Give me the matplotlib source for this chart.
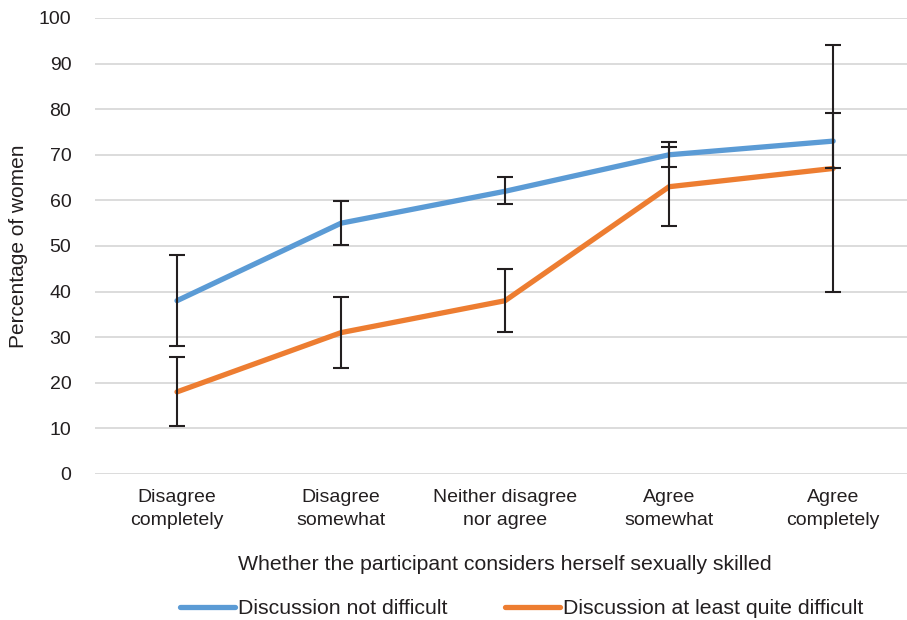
import matplotlib.pyplot as plt
import numpy as np

plt.rcParams['font.family'] = ['Liberation Sans', 'DejaVu Sans']

# Datos
categorias = ["Disagree\ncompletely", "Disagree\nsomewhat", "Neither disagree\nnor agree",
              "Agree\nsomewhat", "Agree\ncompletely"]
no_dificil = [38, 55, 62, 70, 73]
no_dificil_inf = [28, 50.2, 59.2, 67.3, 67]
no_dificil_sup = [48, 59.9, 65.1, 72.8, 79.1]
dificil = [18, 31, 38, 63, 67]
dificil_inf = [10.5, 23.2, 31.1, 54.4, 40]
dificil_sup = [25.7, 38.8, 45, 71.8, 94.1]

azul = "#5B9BD5"
naranja = "#ED7D31"
texto = "#231f20"

fig = plt.figure(figsize=(9.07, 6.20), dpi=100)
ax = fig.add_axes([0.1047, 0.2355, 0.8953, 0.7355])

x = np.arange(len(categorias))

ax.plot(x, dificil, color=naranja, lw=3.8, solid_capstyle="round", zorder=3,
        label="Discussion at least quite difficult")
ax.plot(x, no_dificil, color=azul, lw=3.8, solid_capstyle="round", zorder=3,
        label="Discussion not difficult")

# Barras de error
err_azul = [np.array(no_dificil) - np.array(no_dificil_inf),
            np.array(no_dificil_sup) - np.array(no_dificil)]
err_naranja = [np.array(dificil) - np.array(dificil_inf),
               np.array(dificil_sup) - np.array(dificil)]
ax.errorbar(x, no_dificil, yerr=err_azul, fmt="none", ecolor=texto,
            elinewidth=1.5, capsize=5.5, capthick=1.5, zorder=4)
ax.errorbar(x, dificil, yerr=err_naranja, fmt="none", ecolor=texto,
            elinewidth=1.5, capsize=5.5, capthick=1.5, zorder=4)

ax.set_ylim(0, 100)
ax.set_xlim(-0.5, 4.45)
ax.set_yticks(range(0, 101, 10))
ax.yaxis.grid(True, color="#d9d9d9", lw=1.3)
ax.set_axisbelow(True)
for s in ax.spines.values():
    s.set_visible(False)
ax.tick_params(axis="both", length=0, labelsize=14, colors=texto)
ax.tick_params(axis="y", pad=17)
ax.tick_params(axis="x", pad=11)
ax.set_xticks(x)
ax.set_xticklabels(categorias, linespacing=1.45)

ax.set_ylabel("Percentage of women", fontsize=15, color=texto, labelpad=8)
fig.text(0.557, 0.089, "Whether the participant considers herself sexually skilled",
         ha="center", va="center", fontsize=15.3, color=texto)

h, l = ax.get_legend_handles_labels()
fig.legend(h[::-1], l[::-1], loc="center", bbox_to_anchor=(0.575, 0.018), ncol=2,
           frameon=False, fontsize=15.3, handlelength=2.6, handletextpad=0.12,
           columnspacing=2.7, labelcolor=texto)

fig.savefig("out.png", dpi=100)
